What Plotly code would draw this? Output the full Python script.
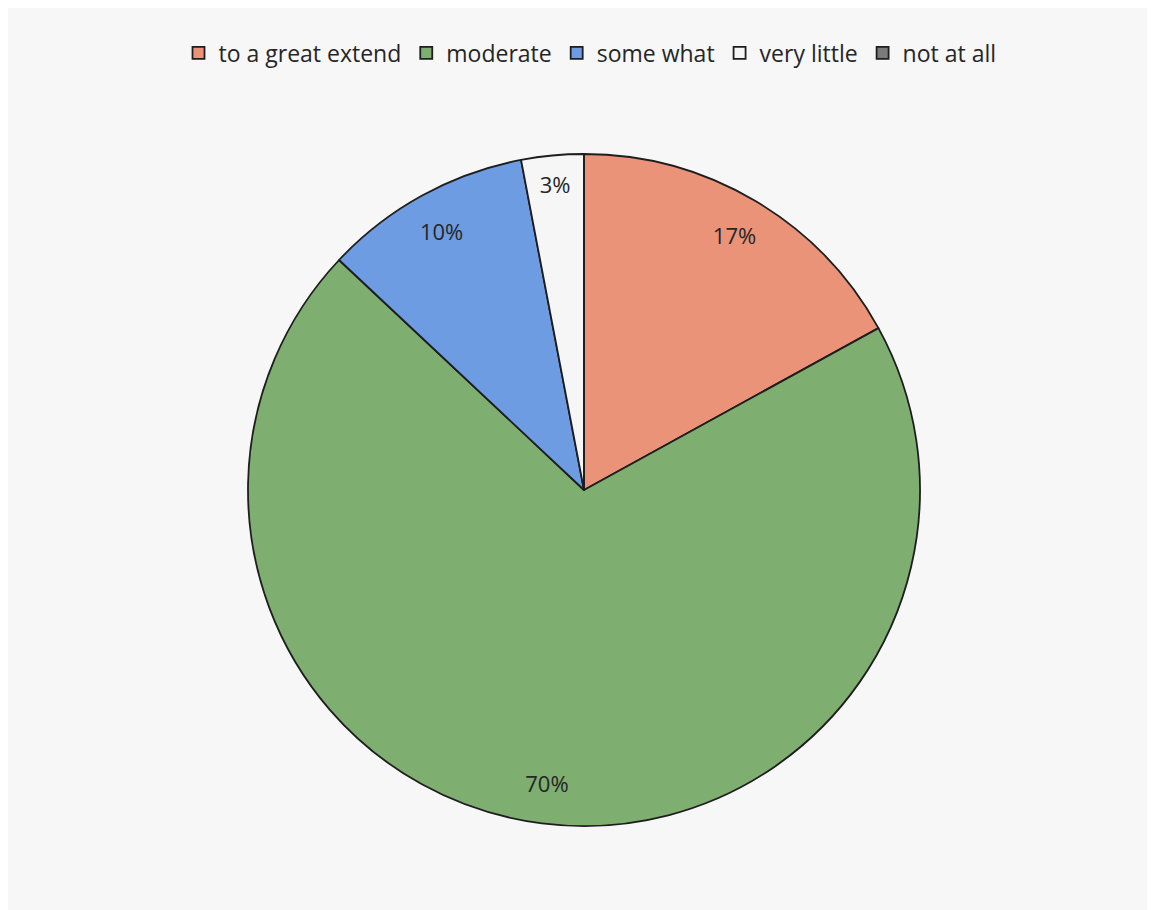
import plotly.graph_objects as go

categories = ["to a great extend", "moderate", "some what", "very little", "not at all"]
values = [17, 70, 10, 3, 0]
pct_labels = ["17%", "70%", "10%", "3%", ""]
colors = ["#EA9379", "#7EAE70", "#6E9CE2", "#F6F6F6", "#7A7A7A"]

W, H = 1147, 902
cx, cy, r = 576, 482, 336
dom_x = [(cx - r) / W, (cx + r) / W]
dom_y = [(H - cy - r) / H, (H - cy + r) / H]

fig = go.Figure()
fig.add_trace(go.Pie(
    labels=categories, values=values, sort=False, direction="clockwise", rotation=0,
    marker=dict(colors=colors, line=dict(color="#1E1E1E", width=1.8)),
    textinfo="none", hoverinfo="label+percent", domain=dict(x=dom_x, y=dom_y),
    showlegend=True,
))
fig.add_trace(go.Pie(
    labels=categories, values=values, sort=False, direction="clockwise", rotation=0,
    hole=0.76, text=pct_labels, textinfo="text", textposition="inside",
    insidetextorientation="horizontal",
    textfont=dict(family="Open Sans", size=22, color="#262626"),
    marker=dict(colors=["rgba(0,0,0,0)"] * 5, line=dict(width=0)),
    hoverinfo="skip", domain=dict(x=dom_x, y=dom_y), showlegend=False,
))

fig.update_layout(
    width=W, height=H,
    margin=dict(l=0, r=0, t=0, b=0),
    paper_bgcolor="#F7F7F7",
    legend=dict(orientation="h", x=(590 - 8) / W, xanchor="center", y=1 - 45 / H, yanchor="middle",
                font=dict(family="Open Sans", size=23, color="#262626"),
                itemwidth=30, traceorder="normal"),
)
fig.write_html("out.html")
